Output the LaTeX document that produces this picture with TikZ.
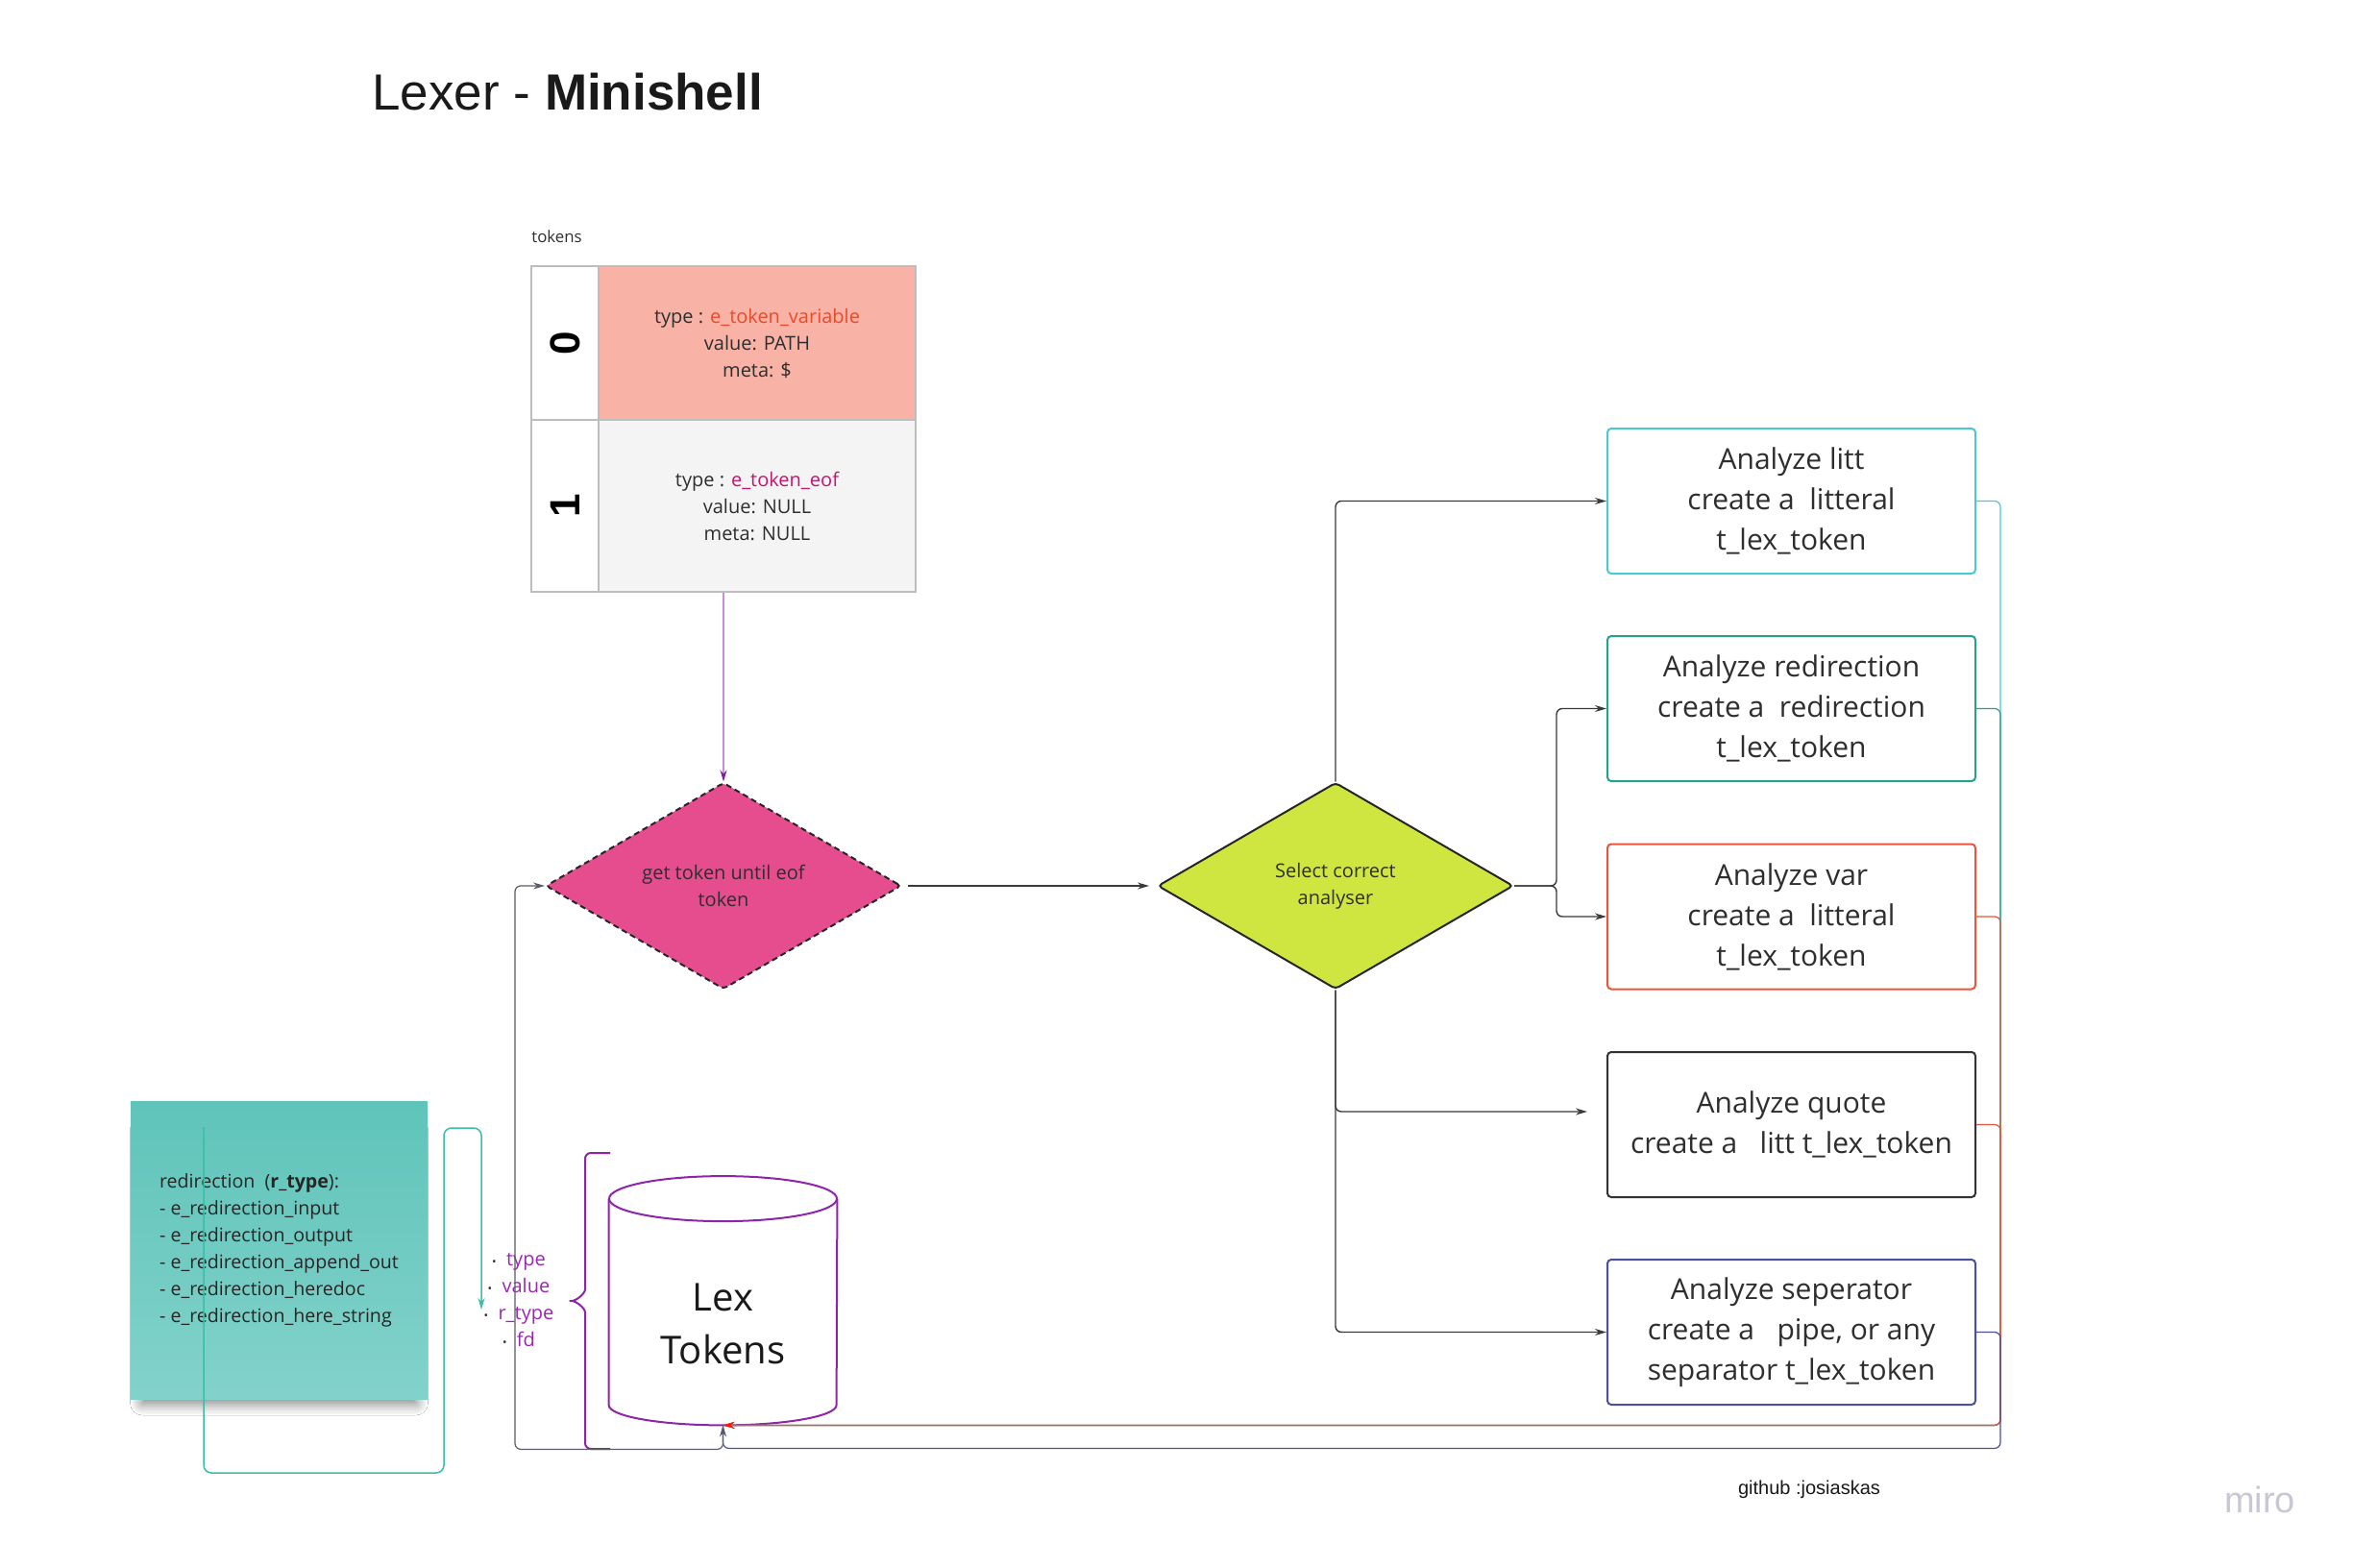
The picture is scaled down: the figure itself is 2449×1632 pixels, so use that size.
\documentclass[tikz,border=0pt]{standalone}
\usepackage{fontspec}
\setmainfont{Open Sans}
\newfontfamily\arialfont{Liberation Sans}
\usetikzlibrary{shapes.geometric,arrows.meta,shadows.blur,calc}

\definecolor{titleblack}{HTML}{1A1A1A}
\definecolor{cellgray}{HTML}{BDBDBD}
\definecolor{salmon}{HTML}{F8B3A6}
\definecolor{rowgray}{HTML}{F4F4F4}
\definecolor{varred}{HTML}{E84B2C}
\definecolor{eofred}{HTML}{C4166E}
\definecolor{txtgray}{HTML}{2E2E2E}
\definecolor{pinkfill}{HTML}{E54D8F}
\definecolor{limefill}{HTML}{CFE640}
\definecolor{cyanline}{HTML}{4FC7CF}
\definecolor{tealline}{HTML}{27A08C}
\definecolor{orangeline}{HTML}{E8563B}
\definecolor{darkline}{HTML}{333333}
\definecolor{indigoline}{HTML}{4A4F9E}
\definecolor{linkgray}{HTML}{3A3A3A}
\definecolor{loopgray}{HTML}{5C5C66}
\definecolor{arrowpurple}{HTML}{C98BDC}
\definecolor{tippurple}{HTML}{7E1FA0}
\definecolor{cylpurple}{HTML}{8E24AA}
\definecolor{fieldpurple}{HTML}{9A27B0}
\definecolor{notetop}{HTML}{5FC4BA}
\definecolor{notebot}{HTML}{82D2CA}
\definecolor{noteline}{HTML}{3DBCA6}
\definecolor{mirogray}{HTML}{C8C8D4}

\tikzset{
  cell/.style={draw=cellgray, line width=0.75pt, inner sep=0pt, align=center,
    font=\fontsize{10}{14}\selectfont, text=txtgray},
  box/.style={draw, line width=1pt, rounded corners=2pt, minimum width=191.5pt,
    minimum height=75.5pt, align=center, font=\fontsize{15}{21}\selectfont, text=txtgray},
  decide/.style={diamond, aspect=1.72, minimum width=185pt, minimum height=107.5pt,
    line width=1pt, rounded corners=2pt, inner sep=0pt, align=center,
    font=\fontsize{10}{14}\selectfont, text=txtgray},
  link/.style={line width=0.7pt, draw=linkgray, rounded corners=3pt,
    -{Stealth[length=6pt,width=3.5pt]}},
  back/.style={line width=0.6pt, rounded corners=3pt, -{Stealth[length=6pt,width=3.5pt]}},
  cyl/.style={draw=cylpurple, line width=1pt},
}

\begin{document}
\begin{tikzpicture}[x=0.5pt,y=-0.5pt]
\useasboundingbox[fill=white] (0,0) rectangle (2449,1632);

\node[anchor=base west, inner sep=0pt, text=titleblack,
  font=\arialfont\fontsize{26.5}{30}\selectfont] (title) at (387,115) {Lexer - \textbf{Minishell}};

\node[anchor=base west, inner sep=0pt, font=\fontsize{8.4}{10}\selectfont, text=txtgray] (tokhead) at (553,252) {tokens};

\node[cell, fill=white, rotate=90, minimum width=80pt, minimum height=35pt,
  font=\arialfont\bfseries\fontsize{22}{22}\selectfont, text=black] (idx0) at (588,357) {0};
\node[cell, fill=salmon, minimum width=165pt, minimum height=80pt] (row0) at (788,357)
  {type : \textcolor{varred}{e\_token\_variable}\\value: PATH\\meta: \$};
\node[cell, fill=white, rotate=90, minimum width=89.5pt, minimum height=35pt,
  font=\arialfont\bfseries\fontsize{22}{22}\selectfont, text=black] (idx1) at (588,526.5) {1};
\node[cell, fill=rowgray, minimum width=165pt, minimum height=89.5pt] (row1) at (788,526.5)
  {type : \textcolor{eofred}{e\_token\_eof}\\value: NULL\\meta: NULL};

\node[decide, fill=pinkfill, draw=black!85, dash pattern=on 3pt off 2pt] (get) at (753,922) {get token until eof\\token};
\node[decide, fill=limefill, draw=black!85] (sel) at (1390,922) {Select correct\\analyser};

\foreach \n/\y/\c/\t in {
  b1/521.5/cyanline/{Analyze litt\\create a\ \ litteral\\t\_lex\_token},
  b2/737.5/tealline/{Analyze redirection\\create a\ \ redirection\\t\_lex\_token},
  b3/954/orangeline/{Analyze var\\create a\ \ litteral\\t\_lex\_token},
  b4/1170.5/darkline/{Analyze quote\\create a\ \ \ litt t\_lex\_token},
  b5/1386.5/indigoline/{Analyze seperator\\create a\ \ \ pipe, or any\\separator t\_lex\_token}}
  \node[box, draw=\c] (\n) at (1864.5,\y) {\t};

\node[minimum width=118.5pt, minimum height=105.5pt, inner sep=0pt, align=center,
  font=\fontsize{20}{27.5}\selectfont, text=black!90] (lex) at (752.5,1377.5) {Lex\\Tokens};
\draw[cyl] ($(lex.north west)+(0,-24)$) -- ($(lex.south west)+(0,-21)$)
  arc[start angle=180, end angle=360, x radius=59.25pt, y radius=10.5pt] -- ($(lex.north east)+(0,-24)$);
\draw[cyl] ($(lex.north)+(0,-24)$) ellipse[x radius=59.25pt, y radius=11.75pt];
\draw[cyl, rounded corners=3pt] (635,1200) -- (609,1200) -- (609,1336) to[out=-90,in=0] (589,1354)
  to[out=0,in=90] (609,1372) -- (609,1508) -- (635,1508);

\node[align=center, font=\fontsize{10}{13.9}\selectfont, text=fieldpurple] (fields) at (540,1353)
  {{\color{black!80}\fontsize{6}{6}\selectfont\textbullet}\ \ type\\
   {\color{black!80}\fontsize{6}{6}\selectfont\textbullet}\ \ value\\
   {\color{black!80}\fontsize{6}{6}\selectfont\textbullet}\ \ r\_type\\
   {\color{black!80}\fontsize{6}{6}\selectfont\textbullet}\ \ fd};

\node[minimum width=154.5pt, minimum height=155pt, inner sep=0pt, top color=notetop, bottom color=notebot,
  blur shadow={shadow xshift=0pt, shadow yshift=-9pt, shadow scale=0.92, shadow blur radius=7pt,
    shadow blur steps=12, shadow opacity=55},
  align=left, font=\fontsize{9.8}{14}\selectfont, text=black!85] (note) at (290.5,1301)
  {redirection\ \ (\textbf{r\_type}):\\- e\_redirection\_input\\- e\_redirection\_output\\
   - e\_redirection\_append\_out\\- e\_redirection\_heredoc\\- e\_redirection\_here\_string};

\node[font=\arialfont\fontsize{10}{12}\selectfont, text=black!90] (gh) at (1883,1550) {github :josiaskas};
\node[font=\arialfont\fontsize{19}{20}\selectfont, text=mirogray] (miro) at (2352,1561) {miro};

\coordinate (nstart) at (212,1173);
\coordinate (rtip) at (501,1363);
\coordinate (loop) at (536,922);
\coordinate (quoteend) at (1652,1157);

\draw[line width=0.75pt, draw=arrowpurple, -{Stealth[length=6pt,width=3.5pt,color=tippurple]}]
  (get.north |- row1.south) -- (get.north);
\draw[link, shorten <=3pt, shorten >=4pt] (get.east) -- (sel.west);
\draw[link] (sel.north) |- (b1.west);
\draw[link] (sel.east) -- ++(44,0) |- (b2.west);
\draw[link] (sel.east) -- ++(44,0) |- (b3.west);
\draw[link] (sel.south) |- (b5.west);
\draw[link] (sel.south) |- (quoteend);

\draw[back, draw=cyanline] (b1.east) -- ++(25,0) |- (lex.south);
\draw[back, draw=tealline] (b2.east) -- ++(25,0) |- (lex.south);
\draw[back, draw=orangeline] (b4.east) -- ++(25,0) |- (lex.south);
\draw[back, draw=orangeline, -{Stealth[length=6pt,width=3.5pt,color=red!80!orange]}] (b3.east) -- ++(25,0) |- (lex.south);
\draw[back, draw=indigoline] (b5.east) -- ++(25,0) |- ($(lex.south)+(0,24)$) -- (lex.south);
\draw[back, draw=loopgray] (lex.south) -- ++(0,25) -| (loop) -- (get.west);

\draw[line width=0.75pt, draw=noteline, rounded corners=4pt, -{Stealth[length=6pt,width=3.5pt]}]
  (nstart) -- (212,1533) -- (462,1533) -- (462,1174) -- (501,1174) -- (rtip);
\end{tikzpicture}
\end{document}
